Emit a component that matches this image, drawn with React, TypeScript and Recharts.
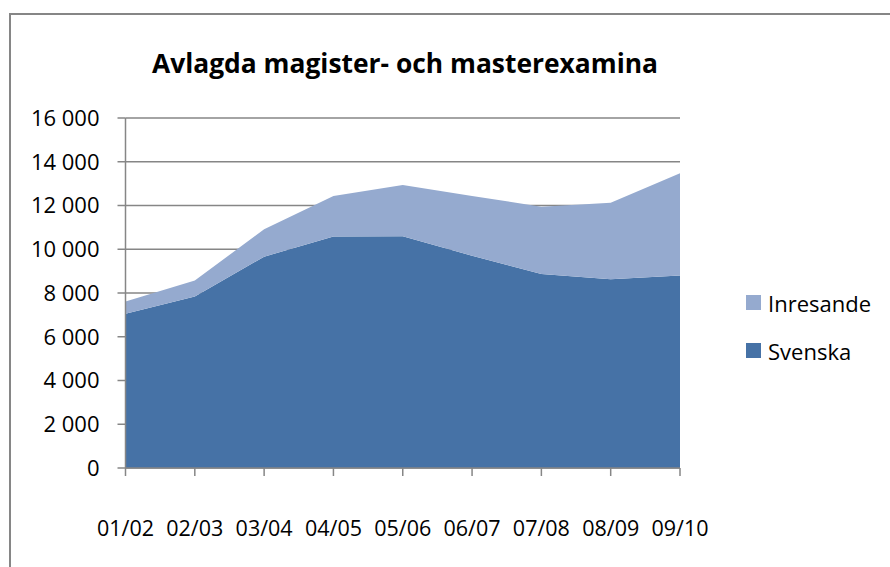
import React from "react";
import { AreaChart, Area, XAxis, YAxis, CartesianGrid } from "recharts";

const categories = ["01/02", "02/03", "03/04", "04/05", "05/06", "06/07", "07/08", "08/09", "09/10"];
const svenska = [7050, 7840, 9660, 10580, 10590, 9700, 8870, 8630, 8800];
const inresande = [560, 730, 1255, 1855, 2350, 2740, 3075, 3500, 4675];
const yTicks = [0, 2000, 4000, 6000, 8000, 10000, 12000, 14000, 16000];
const title = "Avlagda magister- och masterexamina";

const series = [
  { key: "Svenska", values: svenska, color: "#4672A6" },
  { key: "Inresande", values: inresande, color: "#95AACF" },
];

const data = categories.map((c, i) => {
  const row: any = { cat: c };
  series.forEach((s) => (row[s.key] = s.values[i]));
  return row;
});

const FONT = "'Open Sans', 'Noto Sans', sans-serif";
const GRAY = "#868686";

const fmt = (v: number) => {
  const s = String(v);
  return s.length > 3 ? s.slice(0, s.length - 3) + " " + s.slice(-3) : s;
};

const XTick = (props: any) => {
  const { x, y, payload } = props;
  return (
    <text x={x} y={y + 58} textAnchor="middle" fill="#000" fontSize={21.5} fontFamily={FONT}>
      {payload.value}
    </text>
  );
};

export default function App() {
  return (
    <div style={{ position: "absolute", left: 0, top: 0, width: 890, height: 567, overflow: "hidden", background: "#fff" }}>
      <div
        style={{
          position: "absolute",
          left: 9,
          top: 13,
          width: 900,
          height: 600,
          border: `2px solid ${GRAY}`,
          boxSizing: "border-box",
        }}
      />
      <div
        style={{
          position: "absolute",
          left: 0,
          width: 810,
          top: 45,
          textAlign: "center",
          fontFamily: FONT,
          fontWeight: 700,
          fontSize: 26.4,
          lineHeight: "36px",
          color: "#000",
          whiteSpace: "nowrap",
        }}
      >
        {title}
      </div>
      <div style={{ position: "absolute", left: 0, top: 0 }}>
        <AreaChart width={890} height={567} data={data} margin={{ top: 118, right: 210, bottom: 0, left: 0 }}>
          <CartesianGrid horizontal vertical={false} stroke={GRAY} strokeWidth={1.5} />
          <XAxis
            dataKey="cat"
            height={99}
            tickSize={8}
            tickMargin={2}
            tick={<XTick />}
            axisLine={{ stroke: GRAY, strokeWidth: 1.5 }}
            tickLine={{ stroke: GRAY, strokeWidth: 1.5 }}
            interval={0}
          />
          <YAxis
            width={125.5}
            domain={[0, 16000]}
            ticks={yTicks}
            tickFormatter={fmt}
            tickSize={8}
            tickMargin={18}
            tick={{ fill: "#000", fontSize: 22, fontFamily: FONT }}
            axisLine={{ stroke: GRAY, strokeWidth: 1.5 }}
            tickLine={{ stroke: GRAY, strokeWidth: 1.5 }}
            interval={0}
          />
          {series.map((s) => (
            <Area
              key={s.key}
              type="linear"
              dataKey={s.key}
              stackId="a"
              stroke="none"
              fill={s.color}
              fillOpacity={1}
              isAnimationActive={false}
              dot={false}
              activeDot={false}
            />
          ))}
        </AreaChart>
      </div>
      {[...series].reverse().map((s, i) => (
        <div
          key={s.key}
          style={{
            position: "absolute",
            left: 746,
            top: 287 + i * 48,
            height: 31,
            display: "flex",
            alignItems: "center",
            fontFamily: FONT,
            fontSize: 22,
            color: "#000",
          }}
        >
          <span style={{ display: "inline-block", width: 15, height: 15, background: s.color, marginRight: 7 }} />
          <span>{s.key}</span>
        </div>
      ))}
    </div>
  );
}
